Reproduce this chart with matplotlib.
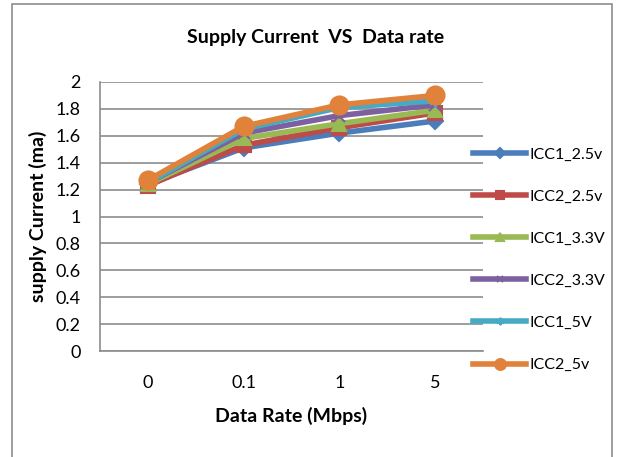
import matplotlib

matplotlib.use("Agg")
import matplotlib.pyplot as plt
from matplotlib.patches import Rectangle

plt.rcParams["font.family"] = ["Lato", "DejaVu Sans"]

rates = ["0", "0.1", "1", "5"]
series_names = ["ICC1_2.5v", "ICC2_2.5v", "ICC1_3.3V", "ICC2_3.3V", "ICC1_5V", "ICC2_5v"]
icc1_25 = [1.24, 1.51, 1.62, 1.71]
icc2_25 = [1.23, 1.53, 1.66, 1.77]
icc1_33 = [1.24, 1.58, 1.69, 1.79]
icc2_33 = [1.25, 1.62, 1.75, 1.83]
icc1_5 = [1.25, 1.65, 1.81, 1.86]
icc2_5 = [1.27, 1.67, 1.83, 1.90]
y_ticks = [0, 0.2, 0.4, 0.6, 0.8, 1, 1.2, 1.4, 1.6, 1.8, 2]
y_labels = ["0", "0.2", "0.4", "0.6", "0.8", "1", "1.2", "1.4", "1.6", "1.8", "2"]

colors = ["#4A7DBA", "#BE4B48", "#98B954", "#7D60A0", "#46AAC5", "#E0823A"]
markers = ["D", "s", "^", "x", (6, 2, 0), "o"]
msizes = [8, 10, 10, 8, 9, 13]

fig = plt.figure(figsize=(6.25, 4.57), dpi=100)
fig.patches.append(Rectangle((12 / 625, -0.05), 600 / 625, 1 - 4 / 457 + 0.05,
                             transform=fig.transFigure, fill=False,
                             edgecolor="#8C8C8C", linewidth=1.2))

ax = fig.add_axes([100 / 625, 1 - 351 / 457, 383 / 625, 269 / 457])
x = list(range(len(rates)))
all_series = [icc1_25, icc2_25, icc1_33, icc2_33, icc1_5, icc2_5]
for vals, name, c, m, ms in zip(all_series, series_names, colors, markers, msizes):
    ax.plot(x, vals, color=c, linewidth=4, marker=m, markersize=ms,
            markeredgecolor=c, markeredgewidth=1.5, label=name, clip_on=False, zorder=3)

ax.set_xlim(-0.5, 3.5)
ax.set_ylim(0, 2)
ax.set_xticks(x)
ax.set_xticklabels(rates)
ax.set_yticks(y_ticks)
ax.set_yticklabels(y_labels)
ax.tick_params(axis="both", length=0, labelsize=13, colors="black")
ax.tick_params(axis="x", pad=17)
ax.tick_params(axis="y", pad=14)
ax.grid(axis="y", color="#8C8C8C", linewidth=1.2)
ax.set_axisbelow(True)
for side in ["top", "right"]:
    ax.spines[side].set_visible(False)
for side in ["left", "bottom"]:
    ax.spines[side].set_color("#8C8C8C")
    ax.spines[side].set_linewidth(1.2)

ax.set_xlabel("Data Rate (Mbps)", fontsize=14, fontweight="bold", labelpad=12)
ax.set_ylabel("supply Current (ma)", fontsize=14, fontweight="bold", labelpad=6)
fig.text(316 / 625, 1 - 38 / 457, "Supply Current  VS  Data rate", ha="center", va="center",
         fontsize=14, fontweight="bold")

handles, labels = ax.get_legend_handles_labels()
fig.legend(handles, labels, loc="upper left", bbox_to_anchor=(459 / 625, 1 - 133 / 457),
           frameon=False, fontsize=11.5, handlelength=3.3, handletextpad=0.2,
           labelspacing=1.75, markerscale=0.6)

fig.savefig("out.png", dpi=100)
